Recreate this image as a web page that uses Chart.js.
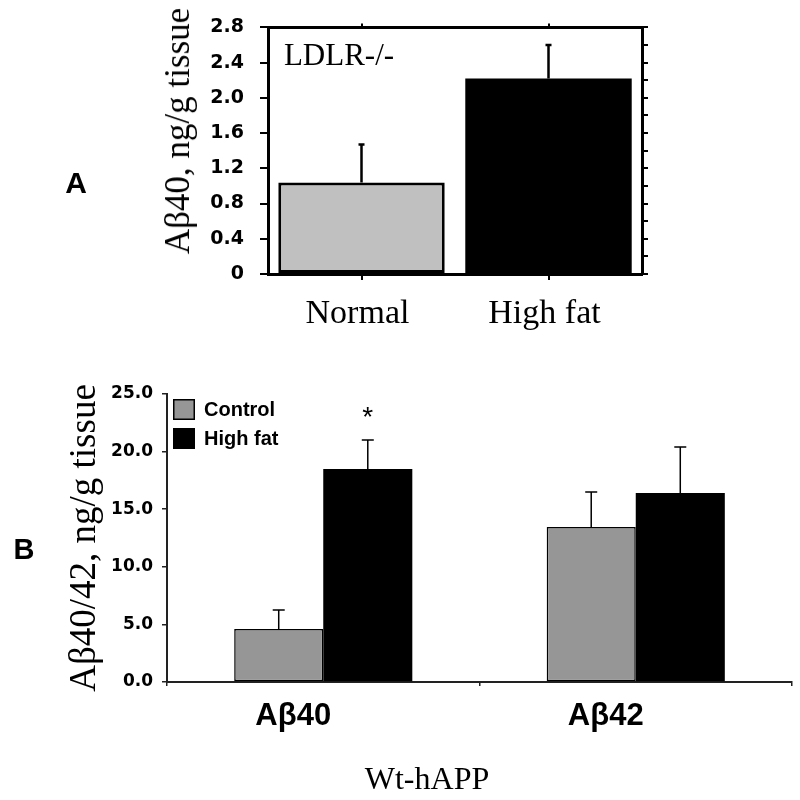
<!DOCTYPE html>
<html>
<head>
<meta charset="utf-8">
<script src="https://cdn.jsdelivr.net/npm/chart.js@4"></script>
<style>
  body { margin: 0; background: #fff; width: 800px; height: 800px; position: relative; overflow: hidden; }
  canvas { position: absolute; left: 0; }
  .lbl { position: absolute; color: #000; white-space: nowrap; line-height: 1; transform: translate(-50%, -50%); }
  .rot { transform: translate(-50%, -50%) rotate(-90deg); }
</style>
</head>
<body>
<canvas id="chartA" width="800" height="345" style="top:0"></canvas>
<canvas id="chartB" width="800" height="455" style="top:345px"></canvas>
<div class="lbl" style="left:76px;top:183px;font:bold 30px 'Liberation Sans'">A</div>
<div class="lbl" style="left:24px;top:549px;font:bold 29px 'Liberation Sans'">B</div>
<div class="lbl" style="left:339px;top:55px;font:31px 'Liberation Serif'">LDLR-/-</div>
<div class="lbl rot" style="left:178px;top:131px;font:35px 'Liberation Serif'">Aβ40, ng/g tissue</div>
<div class="lbl" style="left:427px;top:778px;font:32px 'Liberation Serif'">Wt-hAPP</div>
<script>
// panel A: LDLR-/- mice
const dietsA = ['Normal', 'High fat'];
const abeta40A = [1.04, 2.22];
const abeta40ErrA = [0.43, 0.38];
const yTicksA = ['0', '0.4', '0.8', '1.2', '1.6', '2.0', '2.4', '2.8'];

// panel B: Wt-hAPP mice
const peptidesB = ['Aβ40', 'Aβ42'];
const controlB = [4.6, 13.45];
const controlErrB = [1.65, 3.05];
const highFatB = [18.5, 16.4];
const highFatErrB = [2.5, 4.0];
const starsB = ['*', ''];
const yTicksB = ['0.0', '5.0', '10.0', '15.0', '20.0', '25.0'];

Chart.defaults.color = '#000';
Chart.defaults.animation = false;

// draws the SD line on top of each bar, plus an optional mark above it
const errorBars = {
  id: 'errorBars',
  afterDatasetsDraw(chart, args, opts) {
    const ctx = chart.ctx;
    const y = chart.scales.y;
    chart.data.datasets.forEach((ds, di) => {
      if (!ds.errors) return;
      chart.getDatasetMeta(di).data.forEach((bar, i) => {
        const top = y.getPixelForValue(ds.data[i] + ds.errors[i]);
        ctx.save();
        ctx.strokeStyle = '#000';
        ctx.lineWidth = opts.lineWidth;
        ctx.beginPath();
        ctx.moveTo(bar.x, bar.y);
        ctx.lineTo(bar.x, top);
        ctx.moveTo(bar.x - opts.cap / 2, top);
        ctx.lineTo(bar.x + opts.cap / 2, top);
        ctx.stroke();
        if (ds.marks && ds.marks[i]) {
          ctx.fillStyle = '#000';
          ctx.font = '28px "Liberation Sans"';
          ctx.textAlign = 'center';
          ctx.textBaseline = 'middle';
          ctx.fillText(ds.marks[i], bar.x, top - 22);
        }
        ctx.restore();
      });
    });
  }
};

// legend boxes drawn in the top-left corner of the plot area
const innerLegend = {
  id: 'innerLegend',
  afterDraw(chart, args, opts) {
    if (!opts.show) return;
    const ctx = chart.ctx;
    const area = chart.chartArea;
    ctx.save();
    ctx.font = 'bold 20px "Liberation Sans"';
    ctx.textBaseline = 'middle';
    ctx.textAlign = 'left';
    chart.data.datasets.forEach((ds, i) => {
      const x = area.left + 6;
      const y = area.top + 5 + i * 29;
      ctx.fillStyle = ds.backgroundColor;
      ctx.fillRect(x, y, 22, 21);
      if (ds.borderWidth) {
        ctx.strokeStyle = ds.borderColor;
        ctx.lineWidth = ds.borderWidth;
        ctx.strokeRect(x + 0.75, y + 0.75, 20.5, 19.5);
      }
      ctx.fillStyle = '#000';
      ctx.fillText(ds.label, x + 31, y + 11);
    });
    ctx.restore();
  }
};

new Chart(document.getElementById('chartA'), {
  type: 'bar',
  data: {
    labels: dietsA,
    datasets: [{
      data: abeta40A,
      errors: abeta40ErrA,
      backgroundColor: ['#c0c0c0', '#000'],
      borderColor: '#000',
      borderWidth: [3, 0],
      borderSkipped: false,
      barPercentage: 1,
      categoryPercentage: 0.89
    }]
  },
  options: {
    responsive: false,
    layout: { padding: { left: 150, right: 146, top: 24, bottom: 0 } },
    plugins: {
      legend: { display: false },
      tooltip: { enabled: false },
      errorBars: { lineWidth: 2.5, cap: 6 }
    },
    scales: {
      x: {
        position: 'bottom',
        offset: true,
        grid: { offset: false, drawOnChartArea: false, tickLength: 6, color: '#000', lineWidth: 2 },
        border: { color: '#000', width: 3 },
        ticks: { font: { family: 'Liberation Serif', size: 34 }, padding: 14, labelOffset: -4 },
        afterFit: s => { s.height = 71; }
      },
      x2: {
        type: 'category',
        position: 'top',
        offset: true,
        grid: { offset: false, drawOnChartArea: false, tickLength: 4, color: '#000', lineWidth: 2 },
        border: { color: '#000', width: 3 },
        ticks: { display: false },
        afterFit: s => { s.height = 0; }
      },
      y: {
        min: 0,
        max: 2.8,
        ticks: {
          stepSize: 0.4,
          padding: 16,
          font: { family: 'DejaVu Sans', size: 19, weight: 'bold' },
          callback: (v, i) => yTicksA[i]
        },
        grid: { drawOnChartArea: false, tickLength: 8, color: '#000', lineWidth: 2 },
        border: { color: '#000', width: 3 },
        afterFit: s => { s.width = 118; }
      },
      y2: {
        position: 'right',
        min: 0,
        max: 2.8,
        ticks: { display: false, stepSize: 0.2 },
        grid: { drawOnChartArea: false, tickLength: 6, color: '#000', lineWidth: 2 },
        border: { color: '#000', width: 3 },
        afterFit: s => { s.width = 12; }
      }
    }
  },
  plugins: [errorBars]
});

new Chart(document.getElementById('chartB'), {
  type: 'bar',
  data: {
    labels: peptidesB,
    datasets: [{
      label: 'Control',
      data: controlB,
      errors: controlErrB,
      backgroundColor: '#969696',
      borderColor: '#000',
      borderWidth: 1.5,
      borderSkipped: false,
      barPercentage: 1,
      categoryPercentage: 0.57
    }, {
      label: 'High fat',
      data: highFatB,
      errors: highFatErrB,
      marks: starsB,
      backgroundColor: '#000',
      borderColor: '#000',
      borderWidth: 0,
      barPercentage: 1,
      categoryPercentage: 0.57
    }]
  },
  options: {
    responsive: false,
    layout: { padding: { left: 63, right: 8, top: 49, bottom: 0 } },
    plugins: {
      legend: { display: false },
      tooltip: { enabled: false },
      errorBars: { lineWidth: 1.5, cap: 12 },
      innerLegend: { show: true }
    },
    scales: {
      x: {
        offset: true,
        grid: { offset: true, drawOnChartArea: false, tickLength: 4, color: '#222', lineWidth: 1.5 },
        border: { color: '#222', width: 2 },
        ticks: {
          font: { family: 'Liberation Sans', size: 31, weight: 'bold' },
          padding: 12,
          labelOffset: -30
        },
        afterFit: s => { s.height = 118; }
      },
      y: {
        min: 0,
        max: 25,
        ticks: {
          stepSize: 5,
          padding: 9,
          font: { family: 'DejaVu Sans', size: 17, weight: 'bold' },
          callback: (v, i) => yTicksB[i]
        },
        grid: { drawOnChartArea: false, tickLength: 5, color: '#222', lineWidth: 1.5 },
        border: { color: '#222', width: 2 },
        title: {
          display: true,
          text: 'Aβ40/42, ng/g tissue',
          font: { family: 'Liberation Serif', size: 37 },
          padding: 0
        },
        afterFit: s => { s.width = 104; }
      }
    }
  },
  plugins: [errorBars, innerLegend]
});
</script>
</body>
</html>
